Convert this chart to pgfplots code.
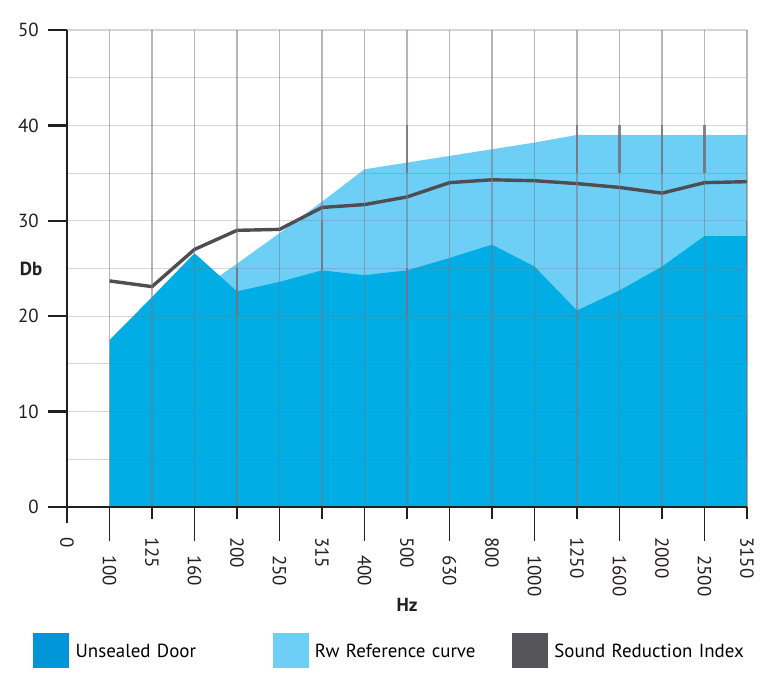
\documentclass[border=0pt]{standalone}
\usepackage{fontspec}
\setmainfont{PT Sans}
\usepackage{pgfplots}
\usepackage{pgfplotstable}
\pgfplotsset{compat=1.18}
\usepgfplotslibrary{fillbetween}
\definecolor{doorblue}{RGB}{0,173,228}
\definecolor{refblue}{RGB}{109,207,246}
\definecolor{midblue}{RGB}{88,184,230}
\definecolor{sriline}{RGB}{78,78,82}
\definecolor{legdoor}{RGB}{0,150,215}
\definecolor{leggray}{RGB}{85,85,90}
\definecolor{axisblack}{RGB}{35,31,32}
\definecolor{gridgray}{RGB}{120,120,132}

\pgfplotstableread{
x ref door sri
1 16.0 17.5 23.7
2 19.2 22.0 23.1
3 22.4 26.6 27.0
4 25.5 22.6 29.0
5 28.7 23.6 29.1
6 32.0 24.8 31.4
7 35.4 24.3 31.7
8 36.1 24.8 32.5
9 36.8 26.1 34.0
10 37.5 27.5 34.3
11 38.2 25.2 34.2
12 39.0 20.6 33.9
13 39.0 22.7 33.5
14 39.0 25.2 32.9
15 39.0 28.4 34.0
16 39.0 28.4 34.1
}\datatable

\begin{document}
\begin{tikzpicture}
\begin{axis}[
  at={(0,0)}, anchor=south west,
  scale only axis, width=680bp, height=477bp,
  xmin=0, xmax=16, ymin=0, ymax=50,
  axis lines*=left,
  axis on top,
  x axis line style={line width=1.8bp, color=axisblack},
  y axis line style={line width=2.6bp, color=axisblack},
  tick align=outside,
  major tick length=19bp,
  ytick={0,10,...,50},
  minor ytick={5,15,...,45},
  minor tick length=0pt,
  ymajorgrids, yminorgrids, xmajorgrids,
  y grid style={gridgray, opacity=0.3, line width=1.1bp},
  x grid style={gridgray, opacity=0.55, line width=1.2bp},
  ytick style={line width=2.4bp, color=axisblack},
  xtick={1,2,...,16},
  xticklabels={},
  xtick style={draw=none},
  yticklabel style={font=\fontsize{19}{20}\selectfont, color=axisblack, inner sep=0pt},
  yticklabel shift=9bp,
  /pgf/number format/assume math mode=true,
  xlabel={\textbf{Hz}},
  xlabel style={font=\fontsize{19}{20}\selectfont, color=axisblack, at={(axis description cs:0.5,-0.205)}, anchor=center},
  ylabel={\textbf{Db}},
  ylabel style={font=\fontsize{19}{20}\selectfont, color=axisblack, rotate=-90, at={(axis description cs:-0.053,0.5)}, anchor=center},
  legend style={at={(axis description cs:-0.05,-0.264)}, anchor=north west,
     draw=none, fill=none, inner sep=0pt, legend columns=3,
     font=\fontsize{19}{20}\selectfont,
     nodes={inner sep=0pt, text width=197bp, align=left},
     /tikz/every odd column/.style={column sep=7bp},
     /tikz/every even column/.style={column sep=0pt}},
]
% reference curve area
\addplot[fill=refblue, draw=none, forget plot] table[x=x, y=ref] {\datatable} \closedcycle;
% unsealed door area
\addplot[fill=doorblue, draw=none, forget plot] table[x=x, y=door] {\datatable} \closedcycle;
\addplot[draw=none, name path=door, forget plot] table[x=x, y=door] {\datatable};
\addplot[draw=none, name path=ref, forget plot] table[x=x, y=ref] {\datatable};
% part of the door curve above the reference curve
\addplot[fill=midblue, draw=none, forget plot] fill between[of=door and ref, soft clip={domain=1:3.59}, on layer=main];
% darker grid segments
\addplot[color=gridgray!90!black, line width=2.4bp, opacity=0.8, forget plot, unbounded coords=jump] coordinates {
 (4,20) (4,25) (4,nan)
 (6,24.8) (6,30) (6,nan)
 (8,35) (8,40) (8,nan)
 (8,20) (8,25) (8,nan)
 (12,35) (12,40) (12,nan)
 (13,35) (13,40) (13,nan)
 (14,35) (14,40) (14,nan)
 (15,35) (15,40) (15,nan)
 (16,25) (16,30) (16,nan)
 (16,15) (16,20) (16,nan)
 (16,5) (16,10)
};
% sound reduction index
\addplot[color=sriline, line width=3.4bp, line join=round, forget plot] table[x=x, y=sri] {\datatable};
\addlegendimage{legend image code/.code={\fill[legdoor] (0bp,-16bp) rectangle (35bp,18bp);}}
\addlegendentry{Unsealed Door}
\addlegendimage{legend image code/.code={\fill[refblue] (0bp,-16bp) rectangle (35bp,18bp);}}
\addlegendentry{Rw Reference curve}
\addlegendimage{legend image code/.code={\fill[leggray] (0bp,-16bp) rectangle (35bp,18bp);}}
\addlegendentry{Sound Reduction Index}
\end{axis}
% x axis tick marks and frequency labels (axis spans 680bp over 16 steps)
\foreach \i/\lab in {0/0,2/125,4/200,6/315,8/500,10/800,12/1250,14/2000,16/3150}{
  \draw[line width=2.4bp, axisblack] (\i*42.5bp,0) -- ++(0,-12bp);
  \node[font=\fontsize{19}{20}\selectfont, text=axisblack, rotate=-90, anchor=west, inner sep=0pt] at (\i*42.5bp,-30bp) {\lab};
}
\foreach \i/\lab in {1/100,3/160,5/250,7/400,9/630,11/1000,13/1600,15/2500}{
  \draw[line width=1.6bp, axisblack] (\i*42.5bp,0) -- ++(0,-34bp);
  \node[font=\fontsize{19}{20}\selectfont, text=axisblack, rotate=-90, anchor=west, inner sep=0pt] at (\i*42.5bp,-48bp) {\lab};
}
\draw[line width=2.6bp, axisblack] (0,0) -- (0,-16bp);
\pgfresetboundingbox
\path[use as bounding box] (-67bp,-169bp) rectangle (708bp,507bp);
\end{tikzpicture}
\end{document}
